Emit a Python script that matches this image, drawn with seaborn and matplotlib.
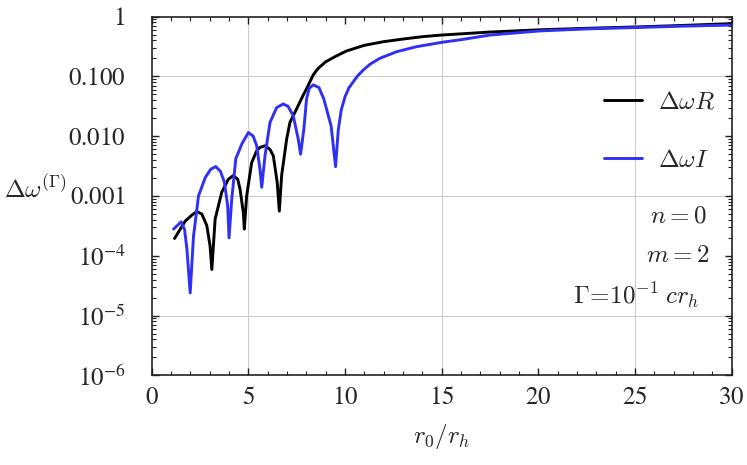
import numpy as np
import pandas as pd
import seaborn as sns
import matplotlib.pyplot as plt
from matplotlib.ticker import MultipleLocator, LogLocator, NullFormatter

# values
r_R = [1.18, 1.73, 2.08, 2.33, 2.59, 2.85, 3.02, 3.11, 3.28, 3.62, 3.96, 4.22, 4.45, 4.57,
       4.74, 4.79, 4.91, 5.17, 5.43, 5.60, 5.86, 6.12, 6.29, 6.49, 6.60, 6.72, 6.98, 7.15,
       7.49, 7.83, 8.01, 8.35, 8.6, 9.0, 9.5, 10.07, 11.0, 12.0, 13.0, 14.0, 15.0, 17.5,
       20.1, 22.5, 25.1, 27.5, 30.0]
dw_R = [1.95e-4, 3.8e-4, 4.8e-4, 5.5e-4, 5.0e-4, 3.2e-4, 1.45e-4, 5.9e-5, 4.1e-4, 1.15e-3,
        1.9e-3, 2.2e-3, 1.9e-3, 1.3e-3, 5.2e-4, 2.8e-4, 1.0e-3, 3.6e-3, 5.7e-3, 6.5e-3,
        6.9e-3, 6.0e-3, 4.7e-3, 1.7e-3, 5.6e-4, 2.2e-3, 8.9e-3, 0.017, 0.0284, 0.048,
        0.062, 0.105, 0.135, 0.175, 0.215, 0.265, 0.33, 0.38, 0.42, 0.46, 0.49, 0.55,
        0.60, 0.635, 0.67, 0.71, 0.76]

r_I = [1.13, 1.52, 1.70, 1.82, 1.99, 2.16, 2.42, 2.76, 3.05, 3.31, 3.55, 3.76, 3.93, 4.00,
       4.14, 4.35, 4.66, 5.00, 5.25, 5.43, 5.60, 5.69, 5.86, 6.12, 6.46, 6.80, 7.05, 7.32,
       7.58, 7.70, 7.87, 8.01, 8.15, 8.35, 8.65, 8.90, 9.28, 9.51, 9.65, 9.8, 10.0, 10.2,
       10.43, 10.65, 10.95, 11.3, 11.8, 12.67, 13.7, 15.0, 16.0, 17.5, 20.1, 22.5, 25.1,
       27.5, 30.0]
dw_I = [2.8e-4, 3.7e-4, 2.75e-4, 1.3e-4, 2.4e-5, 2.1e-4, 1.0e-3, 2.0e-3, 2.8e-3, 3.1e-3,
        2.6e-3, 1.7e-3, 6.8e-4, 2.0e-4, 8.9e-4, 4.2e-3, 7.4e-3, 0.0115, 0.010, 6.9e-3,
        2.8e-3, 1.4e-3, 4.7e-3, 0.017, 0.030, 0.0345, 0.0316, 0.022, 8.9e-3, 5.0e-3,
        0.0132, 0.042, 0.063, 0.072, 0.065, 0.042, 0.0148, 3.1e-3, 0.0127, 0.027, 0.0457,
        0.064, 0.0814, 0.102, 0.128, 0.16, 0.20, 0.258, 0.313, 0.37, 0.41, 0.49, 0.575,
        0.62, 0.655, 0.69, 0.72]

lab_R = r'$\Delta\omega R$'
lab_I = r'$\Delta\omega I$'

x_ticks = [0, 5, 10, 15, 20, 25, 30]
x_labels = [r'$\mathrm{%d}$' % t for t in x_ticks]
y_ticks = [1e-6, 1e-5, 1e-4, 1e-3, 1e-2, 1e-1, 1]
y_labels = [r'$10^{-6}$', r'$10^{-5}$', r'$10^{-4}$', r'$0.001$', r'$0.010$', r'$0.100$', r'$1$']
grid_x = [5, 15, 25]
grid_y = [1e-5, 1e-3, 1e-1]

df = pd.concat([
    pd.DataFrame({'r': r_R, 'dw': dw_R, 'series': lab_R}),
    pd.DataFrame({'r': r_I, 'dw': dw_I, 'series': lab_I}),
])

sns.set_style('ticks')
plt.rcParams['font.family'] = ['Liberation Serif', 'DejaVu Serif']
plt.rcParams['mathtext.fontset'] = 'cm'

fig = plt.figure(figsize=(7.47, 4.65), dpi=100)
ax = fig.add_axes([0.2031, 0.1925, 0.7764, 0.772])

for gx in grid_x:
    ax.axvline(gx, color='#cccccc', lw=0.8, zorder=0)
for gy in grid_y:
    ax.axhline(gy, color='#cccccc', lw=0.8, zorder=0)

sns.lineplot(data=df, x='r', y='dw', hue='series',
             palette={lab_R: 'black', lab_I: '#3030f5'},
             estimator=None, sort=False, lw=2.1, ax=ax)

ax.set_yscale('log')
ax.set_xlim(0, 30)
ax.set_ylim(1e-6, 1)

ax.tick_params(which='both', direction='in', top=True, right=True, color='#222222')
ax.tick_params(which='major', length=5, width=1.0)
ax.tick_params(which='minor', length=3, width=0.8)
ax.tick_params(axis='y', pad=19)
ax.tick_params(axis='x', pad=8.5)

ax.set_xticks(x_ticks, labels=x_labels, math_fontfamily='stix', fontsize=18)
ax.xaxis.set_minor_locator(MultipleLocator(1))
ax.set_yticks(y_ticks, labels=y_labels, math_fontfamily='stix', fontsize=18)
ax.yaxis.set_minor_locator(LogLocator(base=10, subs=np.arange(2, 10)))
ax.yaxis.set_minor_formatter(NullFormatter())

for s in ax.spines.values():
    s.set_linewidth(1.2)
    s.set_color('#222222')

ax.set_xlabel(r'$r_0/r_h$', fontsize=18, va='center')
ax.xaxis.set_label_coords(0.5, -0.171)
ax.set_ylabel(r'$\Delta\omega^{(\Gamma)}$', fontsize=18, rotation=0, va='center', ha='center')
ax.yaxis.set_label_coords(-0.2003, 0.5195)

handles, labels = ax.get_legend_handles_labels()
ax.legend(handles, labels, loc='center left', bbox_to_anchor=(0.78, 0.68), frameon=False,
          fontsize=18, handlelength=1.5, handletextpad=0.65, labelspacing=1.45,
          borderpad=0, borderaxespad=0)

ax.text(0.957, 0.4256, r'$n=0$', transform=ax.transAxes, ha='right', va='baseline', fontsize=18)
ax.text(0.961, 0.317, r'$m=2$', transform=ax.transAxes, ha='right', va='baseline', fontsize=18)
ax.text(0.9436, 0.201, r'$\Gamma\!=\!10^{-1}\;cr_h$', transform=ax.transAxes, ha='right',
        va='baseline', fontsize=18)

fig.savefig('out.png', dpi=100)
